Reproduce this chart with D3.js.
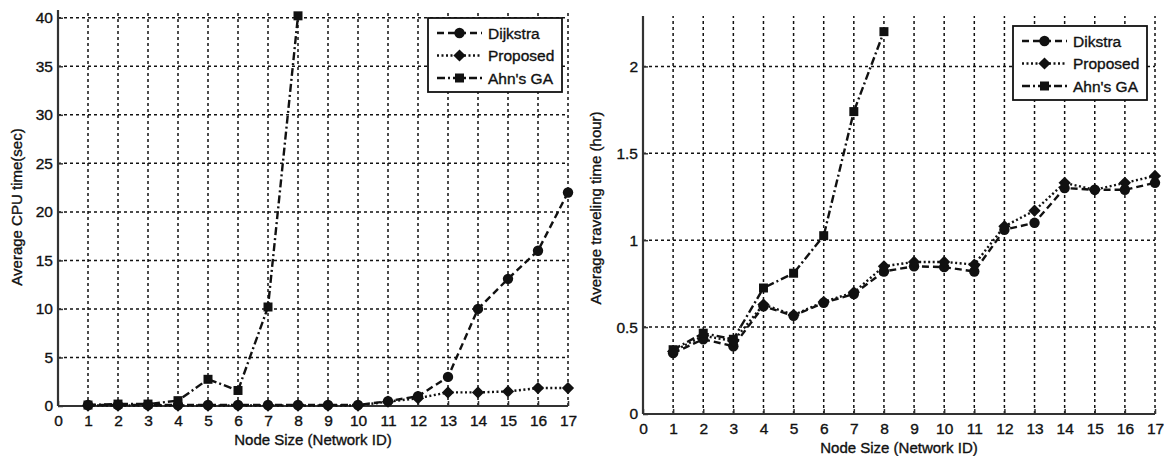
<html>
<head>
    <meta charset="utf-8">
    <title>CPU time and traveling time</title>
    <style>
        body { margin: 0; background: #fff; }
        svg { display: block; }
        text { font-family: "Liberation Sans", Arial, Helvetica, sans-serif; fill: #111; stroke: #111; stroke-width: 0.35; }
        .grid line { stroke: #111; stroke-width: 1.5; stroke-dasharray: 3,3; }
        .axisline { stroke: #333; stroke-width: 2.2; }
    </style>
</head>
<body>
<div id="graph"></div>
<script src="https://d3js.org/d3.v7.min.js"></script>
<script type="text/javascript">
    // x positions (network id)
    var nodeIds = [1, 2, 3, 4, 5, 6, 7, 8, 9, 10, 11, 12, 13, 14, 15, 16, 17];
    var ahnIds = [1, 2, 3, 4, 5, 6, 7, 8];
    var xTicks = [0, 1, 2, 3, 4, 5, 6, 7, 8, 9, 10, 11, 12, 13, 14, 15, 16, 17];

    // left: average CPU time (sec)
    var cpuDijkstra = [0.1, 0.1, 0.1, 0.1, 0.1, 0.1, 0.1, 0.1, 0.1, 0.1, 0.5, 1.0, 3.0, 10.0, 13.1, 16.0, 22.0];
    var cpuProposed = [0.05, 0.05, 0.05, 0.05, 0.05, 0.05, 0.05, 0.05, 0.05, 0.05, 0.45, 0.8, 1.4, 1.4, 1.5, 1.85, 1.85];
    var cpuAhn = [0.1, 0.2, 0.2, 0.55, 2.75, 1.6, 10.2, 40.2];
    var cpuTicks = [0, 5, 10, 15, 20, 25, 30, 35, 40];

    // right: average traveling time (hour)
    var travelDijkstra = [0.35, 0.43, 0.39, 0.62, 0.565, 0.64, 0.69, 0.82, 0.85, 0.845, 0.82, 1.06, 1.10, 1.30, 1.29, 1.29, 1.33];
    var travelProposed = [0.36, 0.45, 0.42, 0.63, 0.57, 0.645, 0.70, 0.85, 0.875, 0.875, 0.86, 1.08, 1.17, 1.33, 1.29, 1.33, 1.37];
    var travelAhn = [0.37, 0.465, 0.43, 0.725, 0.81, 1.026, 1.74, 2.20];
    var travelTicks = [0, 0.5, 1, 1.5, 2];

    var svg = d3.select('#graph').append('svg').attr('width', 1167).attr('height', 456);

    // matlab-like diamond: a square turned 45 degrees
    var squareDiamond = {
        draw: function (ctx, size) {
            var r = Math.sqrt(size / 2);
            ctx.moveTo(0, -r); ctx.lineTo(r, 0); ctx.lineTo(0, r); ctx.lineTo(-r, 0); ctx.closePath();
        }
    };

    function symbolFor(kind) {
        if (kind === 'circle') return d3.symbol().type(d3.symbolCircle).size(85);
        if (kind === 'diamond') return d3.symbol().type(squareDiamond).size(75);
        return d3.symbol().type(d3.symbolSquare).size(81);
    }

    function drawChart(o) {
        var g = svg.append('g');
        var x = d3.scaleLinear().domain([0, 17]).range([o.left, o.right]);
        var y = d3.scaleLinear().domain([0, o.ymax]).range([o.bottom, o.top]);

        // grid
        var grid = g.append('g').attr('class', 'grid');
        grid.selectAll('.vg').data(xTicks.slice(1)).enter().append('line')
            .attr('x1', function (d) { return x(d); }).attr('x2', function (d) { return x(d); })
            .attr('y1', o.bottom).attr('y2', o.top);
        grid.selectAll('.hg').data(o.yTicks.slice(1)).enter().append('line')
            .attr('x1', o.left).attr('x2', o.right)
            .attr('y1', function (d) { return y(d); }).attr('y2', function (d) { return y(d); });

        // axes (ticks inside, matlab style)
        var xAxis = g.append('g').attr('transform', 'translate(0,' + o.bottom + ')')
            .call(d3.axisBottom(x).tickValues(xTicks).tickSize(-5).tickPadding(9).tickFormat(d3.format('d')));
        var yAxis = g.append('g').attr('transform', 'translate(' + o.left + ',0)')
            .call(d3.axisLeft(y).tickValues(o.yTicks).tickSize(-5).tickPadding(5).tickFormat(function (d) { return String(d); }));
        [xAxis, yAxis].forEach(function (a) {
            a.select('.domain').remove();
            a.selectAll('.tick line').attr('stroke', '#333').attr('stroke-width', 1.5);
            a.selectAll('text').attr('font-size', 15.5).attr('fill', '#111')
                .attr('font-family', '"Liberation Sans", Arial, sans-serif');
        });
        g.append('line').attr('class', 'axisline')
            .attr('x1', o.left).attr('x2', o.right).attr('y1', o.bottom).attr('y2', o.bottom);
        g.append('line').attr('class', 'axisline')
            .attr('x1', o.left).attr('x2', o.left).attr('y1', o.bottom).attr('y2', o.top);

        // axis labels
        g.append('text').attr('x', (o.left + o.right) / 2).attr('y', o.bottom + 39)
            .attr('text-anchor', 'middle').attr('font-size', 15).text('Node Size (Network ID)');
        g.append('text').attr('transform', 'translate(' + o.ylabelX + ',' + o.ylabelY + ') rotate(-90)')
            .attr('text-anchor', 'middle').attr('font-size', 15).text(o.ylabel);

        // series
        o.series.forEach(function (s) {
            var pts = s.ids.map(function (id, i) { return [id, s.values[i]]; });
            g.append('path').datum(pts)
                .attr('fill', 'none').attr('stroke', '#111').attr('stroke-width', 2.4)
                .attr('stroke-dasharray', s.dash)
                .attr('d', d3.line().x(function (d) { return x(d[0]); }).y(function (d) { return y(d[1]); }));
            g.selectAll(null).data(pts).enter().append('path')
                .attr('transform', function (d) { return 'translate(' + x(d[0]) + ',' + y(d[1]) + ')'; })
                .attr('d', symbolFor(s.marker)).attr('fill', '#111');
        });

        // legend
        var lg = g.append('g').attr('transform', 'translate(' + o.legX + ',' + o.legY + ')');
        lg.append('rect').attr('width', 134).attr('height', 74)
            .attr('fill', '#fff').attr('stroke', '#111').attr('stroke-width', 1.8);
        o.series.forEach(function (s, i) {
            var ly = 15 + i * 22.5;
            lg.append('line').attr('x1', 9).attr('x2', 54).attr('y1', ly).attr('y2', ly)
                .attr('stroke', '#111').attr('stroke-width', 2.4).attr('stroke-dasharray', s.dash);
            lg.append('path').attr('transform', 'translate(31.5,' + ly + ')')
                .attr('d', symbolFor(s.marker)).attr('fill', '#111');
            lg.append('text').attr('x', 60).attr('y', ly + 5.5).attr('font-size', 15.5).text(s.name);
        });
    }

    drawChart({
        left: 58, right: 568, top: 10, bottom: 406, ymax: 40.8, yTicks: cpuTicks,
        ylabel: 'Average CPU time(sec)', ylabelX: 22, ylabelY: 207,
        legX: 428, legY: 18,
        series: [
            {name: 'Dijkstra', ids: nodeIds, values: cpuDijkstra, marker: 'circle', dash: '7,4'},
            {name: 'Proposed', ids: nodeIds, values: cpuProposed, marker: 'diamond', dash: '2,2.5'},
            {name: "Ahn's GA", ids: ahnIds, values: cpuAhn, marker: 'square', dash: '8,3,2,3'}
        ]
    });

    drawChart({
        left: 643, right: 1155, top: 16, bottom: 414, ymax: 2.29, yTicks: travelTicks,
        ylabel: 'Average traveling time (hour)', ylabelX: 601, ylabelY: 208,
        legX: 1013, legY: 26,
        series: [
            {name: 'Dikstra', ids: nodeIds, values: travelDijkstra, marker: 'circle', dash: '7,4'},
            {name: 'Proposed', ids: nodeIds, values: travelProposed, marker: 'diamond', dash: '2,2.5'},
            {name: "Ahn's GA", ids: ahnIds, values: travelAhn, marker: 'square', dash: '8,3,2,3'}
        ]
    });
</script>
</body>
</html>
